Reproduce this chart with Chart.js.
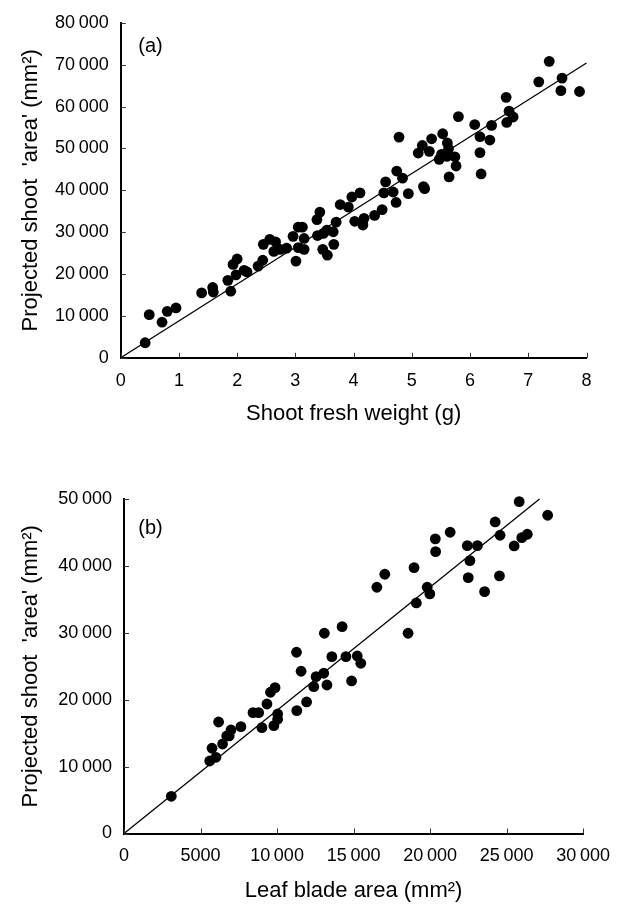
<!DOCTYPE html>
<html>
<head>
<meta charset="utf-8">
<script src="https://cdn.jsdelivr.net/npm/chart.js@4"></script>
<style>
  html, body { margin: 0; padding: 0; background: #fff; }
  .panel { position: absolute; left: 0; width: 622px; height: 454px; }
</style>
</head>
<body>
<div class="panel" style="top:0"><canvas id="chartA" width="622" height="454"></canvas></div>
<div class="panel" style="top:454px"><canvas id="chartB" width="622" height="454"></canvas></div>
<script>
// (a) shoot fresh weight (g) vs projected shoot area (mm2)
const freshWeight = [
  0.42, 0.49, 0.71, 0.80, 0.95, 1.39, 1.58, 1.59, 1.89, 1.84,
  1.98, 1.93, 2.00, 2.12, 2.17, 2.36, 2.44, 2.45, 2.56, 2.66,
  2.63, 2.74, 2.85, 3.01, 2.96, 3.05, 3.12, 3.05, 3.15, 3.15,
  3.37, 3.42, 3.38, 3.48, 3.54, 3.65, 3.47, 3.55, 3.66, 3.70,
  3.77, 3.91, 3.97, 4.02, 4.11, 4.16, 4.18, 4.36, 4.49, 4.52,
  4.55, 4.68, 4.73, 4.74, 4.84, 4.94, 5.20, 5.22, 4.78, 5.80,
  6.08, 6.37, 6.17, 6.34, 6.17, 6.19, 6.62, 7.18, 7.36, 7.58,
  7.56, 7.88, 6.67, 6.74, 6.63, 5.34, 5.53, 5.18, 5.11, 5.30,
  5.61, 5.63, 5.51, 5.60, 5.74, 5.47, 5.76, 5.64
];
const shootAreaA = [
  3600, 10300, 8500, 11100, 11900, 15500, 16800, 15700, 15900, 18500,
  19800, 22300, 23600, 20900, 20500, 21900, 23300, 27100, 28300, 27700,
  25400, 25900, 26200, 23100, 29000, 31200, 31200, 26300, 25900, 28500,
  33000, 34800, 29200, 29700, 30500, 30100, 25900, 24500, 27100, 32400,
  36600, 36000, 38400, 32600, 39400, 31700, 33300, 34000, 35400, 39400,
  42000, 39600, 37100, 44600, 42900, 39200, 40900, 40400, 52700, 57600,
  55700, 55500, 52800, 52000, 49000, 43900, 62200, 65900, 70800, 66800,
  63800, 63600, 58900, 57500, 56200, 52300, 53500, 50700, 48900, 49300,
  51300, 49900, 48600, 48100, 48000, 47400, 45800, 43200
];
const fitAx = [0, 8];
const fitAy = [0, 70400];

// (b) leaf blade area (mm2) vs projected shoot area (mm2)
const leafArea = [
  3090, 5600, 5750, 6010, 6180, 6440, 6710, 6990, 6870, 7640,
  8430, 8800, 9010, 9340, 9570, 9870, 9790, 10040, 10040, 11290,
  11930, 11270, 11570, 12400, 12550, 13050, 13090, 13260, 13580, 14250,
  14500, 14870, 15240, 15470, 16520, 17040, 18560, 18950, 19100, 19810,
  19980, 20340, 20360, 21310, 22430, 23090, 22600, 22490, 23560, 24250,
  24570, 24530, 25490, 25820, 25990, 26350, 27680
];
const shootAreaB = [
  5560, 10840, 12740, 11390, 16670, 13380, 14580, 15470, 14580, 15970,
  18060, 18060, 15820, 19360, 21110, 21800, 16120, 17070, 17870, 18360,
  19660, 27090, 24250, 21950, 23440, 23950, 29930, 22200, 26430, 30920,
  26430, 22800, 26540, 25440, 36810, 38750, 29930, 39740, 34460, 36810,
  35810, 44030, 42130, 45030, 43030, 43030, 40780, 38240, 36150, 46570,
  44580, 38500, 42980, 49600, 44220, 44730, 47570
];
const fitBx = [0, 27150];
const fitBy = [0, 50000];

const FONT = '"Liberation Sans", Arial, Helvetica, sans-serif';
const yTitle = "Projected shoot  'area' (mm\u00B2)";

function fmt(v) {
  return v >= 10000 ? String(v).replace(/\B(?=(\d{3})+(?!\d))/g, '\u2009') : String(v);
}

const innerTicks = {
  id: 'innerTicks',
  afterDraw(chart) {
    const {ctx, chartArea, scales} = chart;
    ctx.save();
    ctx.strokeStyle = '#333';
    ctx.lineWidth = 1;
    ctx.beginPath();
    scales.x.ticks.forEach(t => {
      const px = Math.round(scales.x.getPixelForValue(t.value)) + 0.5;
      ctx.moveTo(px, chartArea.bottom);
      ctx.lineTo(px, chartArea.bottom - 5);
    });
    scales.y.ticks.forEach(t => {
      const py = Math.round(scales.y.getPixelForValue(t.value)) + 0.5;
      ctx.moveTo(chartArea.left, py);
      ctx.lineTo(chartArea.left + 5, py);
    });
    ctx.stroke();
    ctx.restore();
  }
};

const panelLabel = {
  id: 'panelLabel',
  afterDraw(chart, args, opts) {
    const {ctx, chartArea} = chart;
    ctx.save();
    ctx.font = '20px ' + FONT;
    ctx.fillStyle = '#000';
    ctx.textAlign = 'center';
    ctx.textBaseline = 'middle';
    ctx.fillText(opts.text, chartArea.left + opts.dx, chartArea.top + opts.dy);
    ctx.restore();
  }
};

function makePanel(id, p) {
  const points = p.xs.map((x, i) => ({x: x, y: p.ys[i]}));
  const fit = p.fx.map((x, i) => ({x: x, y: p.fy[i]}));
  return new Chart(document.getElementById(id), {
    type: 'scatter',
    data: {
      datasets: [
        {
          data: fit,
          showLine: true,
          borderColor: '#000',
          borderWidth: 1.3,
          pointRadius: 0,
          clip: false
        },
        {
          data: points,
          backgroundColor: '#000',
          borderColor: '#000',
          pointRadius: 5.4,
          pointBorderWidth: 0,
          clip: false
        }
      ]
    },
    options: {
      responsive: false,
      animation: false,
      events: [],
      layout: { padding: p.padding },
      plugins: {
        legend: { display: false },
        tooltip: { enabled: false },
        panelLabel: p.label
      },
      scales: {
        x: {
          type: 'linear',
          min: 0,
          max: p.xMax,
          afterFit: s => { s.height = p.xHeight; },
          ticks: { stepSize: p.xStep, color: '#000', padding: 12, font: { family: FONT, size: 18 }, callback: fmt },
          grid: { drawOnChartArea: false, drawTicks: false },
          border: { color: '#000', width: 2 },
          title: { display: true, text: p.xTitle, color: '#000', font: { family: FONT, size: 22 }, padding: { top: 0, bottom: p.xTitlePad } }
        },
        y: {
          type: 'linear',
          min: 0,
          max: p.yMax,
          afterFit: s => { s.width = p.yWidth; },
          ticks: { stepSize: 10000, color: '#000', padding: 12, font: { family: FONT, size: 18 }, callback: fmt },
          grid: { drawOnChartArea: false, drawTicks: false },
          border: { color: '#000', width: 2 },
          title: { display: true, text: yTitle, color: '#000', font: { family: FONT, size: 22 }, padding: { top: 18, bottom: 0 } }
        }
      }
    },
    plugins: [innerTicks, panelLabel]
  });
}

makePanel('chartA', {
  xs: freshWeight, ys: shootAreaA, fx: fitAx, fy: fitAy,
  xMax: 8, xStep: 1, yMax: 80000,
  xTitle: 'Shoot fresh weight (g)',
  padding: { top: 22.7, right: 35.5, left: 0, bottom: 0 },
  xHeight: 96.2, yWidth: 120.7, xTitlePad: 26.8,
  label: { text: '(a)', dx: 29.8, dy: 23.3 }
});

makePanel('chartB', {
  xs: leafArea, ys: shootAreaB, fx: fitBx, fy: fitBy,
  xMax: 30000, xStep: 5000, yMax: 50000,
  xTitle: 'Leaf blade area (mm\u00B2)',
  padding: { top: 45, right: 32, left: 0, bottom: 0 },
  xHeight: 74.5, yWidth: 124, xTitlePad: 4.3,
  label: { text: '(b)', dx: 26.5, dy: 29.5 }
});
</script>
</body>
</html>
